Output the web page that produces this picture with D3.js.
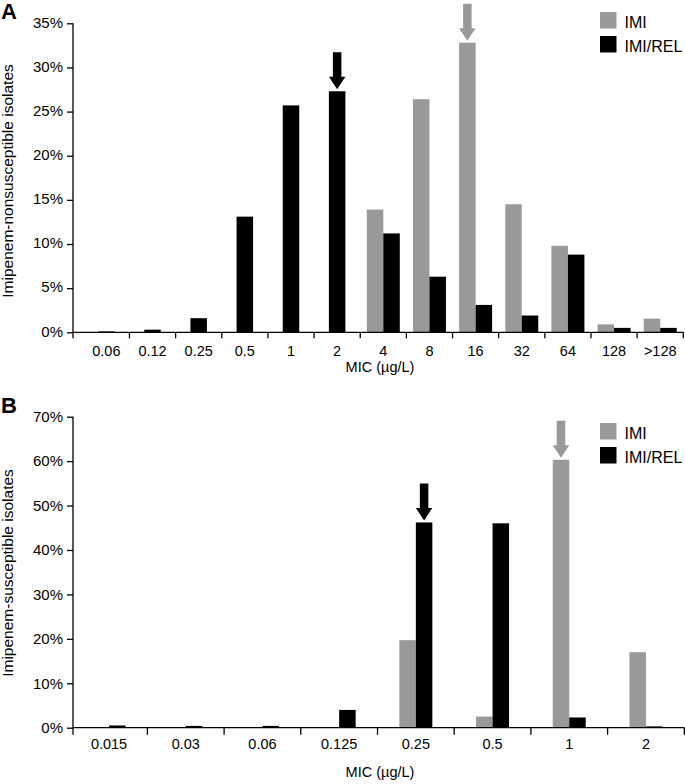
<!DOCTYPE html>
<html>
<head>
<meta charset="utf-8">
<script src="https://cdn.jsdelivr.net/npm/d3@7"></script>
<style>
  html, body { margin: 0; padding: 0; background: #fff; }
  svg { display: block; }
  text { font-family: "Liberation Sans", Arial, sans-serif; fill: #000; }
</style>
</head>
<body>
<svg id="chart" width="685" height="784"></svg>
<script>
// ---------- Data ----------
const seriesNames = ["IMI", "IMI/REL"];

// Panel A: imipenem-nonsusceptible isolates
const catsA = ["0.06", "0.12", "0.25", "0.5", "1", "2", "4", "8", "16", "32", "64", "128", ">128"];
const imiA  = [null, null, null, null, null, null, 13.9, 26.4, 32.8, 14.5, 9.8, 0.9, 1.55];
const relA  = [0.1, 0.3, 1.6, 13.1, 25.7, 27.3, 11.2, 6.3, 3.1, 1.9, 8.8, 0.5, 0.5];
const yTicksA = [0, 5, 10, 15, 20, 25, 30, 35];
const arrowsA = [{ series: "IMI/REL", cat: "2" }, { series: "IMI", cat: "16" }];

// Panel B: imipenem-susceptible isolates
const catsB = ["0.015", "0.03", "0.06", "0.125", "0.25", "0.5", "1", "2"];
const imiB  = [0, 0.1, 0, 0.1, 19.7, 2.5, 60.3, 17.0];
const relB  = [0.5, 0.4, 0.4, 4.0, 46.2, 46.0, 2.3, 0.3];
const yTicksB = [0, 10, 20, 30, 40, 50, 60, 70];
const arrowsB = [{ series: "IMI/REL", cat: "0.25" }, { series: "IMI", cat: "1" }];

const colors = { "IMI": "#999999", "IMI/REL": "#000000" };

// ---------- Drawing ----------
const svg = d3.select("#chart");
const axisX0 = 73;      // y-axis position
const barW = 16.5;

function drawPanel(opt) {
  const g = svg.append("g");
  const x = d3.scaleBand().domain(opt.cats).range(opt.xRange).paddingInner(0).paddingOuter(0);
  const y = d3.scaleLinear().domain([0, opt.yMax]).range(opt.yRange);

  // bars
  const rows = opt.cats.map((c, i) => ({ cat: c, imi: opt.imi[i], rel: opt.rel[i] }));
  const barPos = {};
  rows.forEach(r => {
    const cx = x(r.cat) + x.bandwidth() / 2;
    const items = [];
    if (r.imi === null) {
      items.push({ s: "IMI/REL", v: r.rel, x0: cx - barW / 2 });
    } else {
      items.push({ s: "IMI", v: r.imi, x0: cx - barW });
      items.push({ s: "IMI/REL", v: r.rel, x0: cx });
    }
    items.forEach(it => {
      barPos[it.s + "|" + r.cat] = { cx: it.x0 + barW / 2, top: y(it.v) };
      if (it.v > 0) {
        g.append("rect")
          .attr("x", it.x0).attr("width", barW)
          .attr("y", y(it.v)).attr("height", y(0) - y(it.v))
          .attr("fill", colors[it.s]);
      }
    });
  });

  // arrows
  opt.arrows.forEach(a => {
    const p = barPos[a.series + "|" + a.cat];
    const tip = p.top - 2;
    const len = 37, headH = 12.5, headW = 16.5, shaftW = 8.5;
    const cx = p.cx;
    const pts = [
      [cx - shaftW / 2, tip - len], [cx + shaftW / 2, tip - len],
      [cx + shaftW / 2, tip - headH], [cx + headW / 2, tip - headH],
      [cx, tip], [cx - headW / 2, tip - headH], [cx - shaftW / 2, tip - headH]
    ];
    g.append("path").attr("d", d3.line()(pts) + "Z").attr("fill", colors[a.series]);
  });

  // y axis
  const yAxis = d3.axisLeft(y).tickValues(opt.yTicks).tickFormat(d => d + "%")
    .tickSize(6).tickSizeOuter(0).tickPadding(4);
  const ya = g.append("g").attr("transform", `translate(${axisX0},0)`).call(yAxis);
  ya.attr("font-size", null).attr("font-family", null);
  ya.select(".domain").remove();
  ya.selectAll(".tick line").attr("stroke", "#000").attr("stroke-width", 1.3);
  ya.selectAll(".tick text").attr("dy", opt.yDy)
    .style("font-size", opt.yFont + "px")
    .style("font-family", "'Liberation Sans', Arial, sans-serif");
  g.append("line").attr("x1", axisX0).attr("x2", axisX0)
    .attr("y1", y(opt.yMax)).attr("y2", y(0) + opt.xTick)
    .attr("stroke", "#000").attr("stroke-width", 1.3);

  // x axis
  g.append("line").attr("x1", axisX0).attr("x2", opt.xRange[1])
    .attr("y1", y(0)).attr("y2", y(0)).attr("stroke", "#000").attr("stroke-width", 1.3);
  opt.cats.forEach(c => {
    const bx = x(c) + x.bandwidth();
    g.append("line").attr("x1", bx).attr("x2", bx)
      .attr("y1", y(0)).attr("y2", y(0) + opt.xTick)
      .attr("stroke", "#000").attr("stroke-width", 1.3);
    g.append("text").attr("x", x(c) + x.bandwidth() / 2).attr("y", y(0) + opt.xLabelDy)
      .attr("text-anchor", "middle").style("font-size", opt.xFont + "px").text(c);
  });

  // axis titles
  g.append("text").attr("x", 380).attr("y", opt.xTitleY).attr("text-anchor", "middle")
    .style("font-size", "14.5px").text("MIC (\u00b5g/L)");
  g.append("text").attr("transform", `translate(13,${opt.yTitleC}) rotate(-90)`)
    .attr("text-anchor", "middle").style("font-size", "15.5px").text(opt.yTitle);

  // panel letter
  g.append("text").attr("x", 1).attr("y", opt.letterY).style("font-size", "22px")
    .attr("font-weight", "bold").text(opt.letter);

  // legend
  seriesNames.forEach((s, i) => {
    const ly = opt.legendY + i * 24;
    g.append("rect").attr("x", 600).attr("y", ly).attr("width", 16.5).attr("height", 16.5)
      .attr("fill", colors[s]);
    g.append("text").attr("x", 624.5).attr("y", ly + 16).style("font-size", "16px").text(s);
  });
}

drawPanel({
  cats: catsA, imi: imiA, rel: relA, yTicks: yTicksA, arrows: arrowsA,
  xRange: [83.3, 683.3], yMax: 35, yRange: [332.3, 23.3],
  xTick: 6, xLabelDy: 23.5, xFont: 14.5, yFont: 15, yDy: "0.25em",
  xTitleY: 372, yTitle: "Imipenem-nonsusceptible isolates", yTitleC: 181,
  letter: "A", letterY: 19, legendY: 12
});

drawPanel({
  cats: catsB, imi: imiB, rel: relB, yTicks: yTicksB, arrows: arrowsB,
  xRange: [70.7, 684.3], yMax: 70, yRange: [727.7, 416.7],
  xTick: 7, xLabelDy: 21, xFont: 14.5, yFont: 15, yDy: "0.32em",
  xTitleY: 777, yTitle: "Imipenem-susceptible isolates", yTitleC: 573,
  letter: "B", letterY: 413, legendY: 423
});
</script>
</body>
</html>
